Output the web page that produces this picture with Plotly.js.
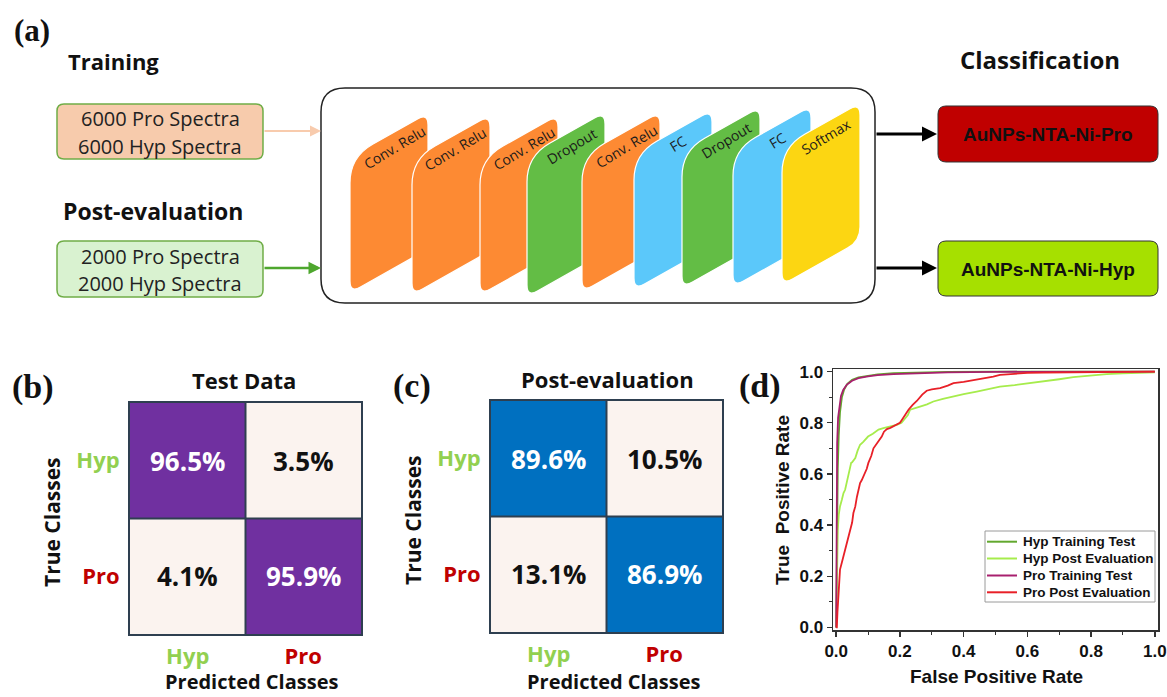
<!DOCTYPE html>
<html><head><meta charset="utf-8">
<script src="https://cdn.plot.ly/plotly-3.0.1.min.js"></script>
<style>html,body{margin:0;padding:0;background:#fff}</style>
</head><body><div id="chart" style="width:1167px;height:697px"></div>
<script>
// ---------------- DATA ----------------
const classes = ['Hyp', 'Pro'];
const cmTest = [[96.5, 3.5], [4.1, 95.9]];
const cmPost = [[89.6, 10.5], [13.1, 86.9]];
const layerNames = ['Conv. Relu', 'Conv. Relu', 'Conv. Relu', 'Dropout', 'Conv. Relu', 'FC', 'Dropout', 'FC', 'Softmax'];
const trainInputs = ['6000 Pro Spectra', '6000 Hyp Spectra'];
const postInputs = ['2000 Pro Spectra', '2000 Hyp Spectra'];
const outputClasses = ['AuNPs-NTA-Ni-Pro', 'AuNPs-NTA-Ni-Hyp'];
const rocNames = ['Hyp Training Test', 'Hyp Post Evaluation', 'Pro Training Test', 'Pro Post Evaluation'];

const hypTrainFpr = [0, 0.002, 0.005, 0.008, 0.012, 0.018, 0.025, 0.035, 0.05, 0.07, 0.1, 0.13, 0.18, 0.25, 0.35, 0.5, 0.7, 1.0];
const hypTrainTpr = [0, 0.30, 0.62, 0.75, 0.84, 0.90, 0.93, 0.952, 0.968, 0.977, 0.984, 0.989, 0.994, 0.997, 0.999, 1.0, 1.0, 1.0];

const hypPostFpr = [0, 0.003, 0.005, 0.008, 0.012, 0.018, 0.023, 0.028, 0.033, 0.04, 0.047, 0.05, 0.06, 0.067, 0.075, 0.085, 0.1, 0.115, 0.133, 0.148, 0.17, 0.19, 0.205, 0.216, 0.225, 0.232, 0.245, 0.263, 0.285, 0.305, 0.335, 0.368, 0.4, 0.441, 0.48, 0.514, 0.56, 0.6, 0.64, 0.7, 0.744, 0.8, 0.849, 0.9, 0.95, 1.0];
const hypPostTpr = [0, 0.25, 0.38, 0.44, 0.473, 0.5, 0.525, 0.538, 0.565, 0.6, 0.643, 0.645, 0.662, 0.69, 0.714, 0.725, 0.746, 0.757, 0.773, 0.779, 0.785, 0.792, 0.80, 0.818, 0.83, 0.851, 0.855, 0.863, 0.872, 0.883, 0.893, 0.903, 0.912, 0.922, 0.932, 0.941, 0.947, 0.953, 0.961, 0.97, 0.978, 0.985, 0.99, 0.993, 0.995, 0.997];

const proTrainFpr = [0, 0.001, 0.003, 0.006, 0.01, 0.015, 0.022, 0.033, 0.05, 0.07, 0.1, 0.13, 0.18, 0.25, 0.35, 0.5, 0.7, 1.0];
const proTrainTpr = [0, 0.45, 0.72, 0.82, 0.87, 0.905, 0.928, 0.948, 0.964, 0.974, 0.981, 0.986, 0.99, 0.994, 0.997, 0.999, 1.0, 1.0];

const proPostFpr = [0, 0.002, 0.004, 0.007, 0.01, 0.012, 0.018, 0.023, 0.028, 0.033, 0.04, 0.044, 0.05, 0.054, 0.06, 0.065, 0.07, 0.075, 0.08, 0.086, 0.096, 0.101, 0.11, 0.117, 0.125, 0.138, 0.143, 0.15, 0.159, 0.17, 0.18, 0.19, 0.2, 0.206, 0.215, 0.227, 0.24, 0.253, 0.27, 0.284, 0.3, 0.326, 0.35, 0.368, 0.4, 0.43, 0.46, 0.493, 0.514, 0.54, 0.567, 0.6, 0.65, 0.7, 0.75, 0.8, 0.9, 1.0];
const proPostTpr = [0, 0.0, 0.06, 0.12, 0.18, 0.226, 0.255, 0.278, 0.3, 0.33, 0.36, 0.382, 0.41, 0.447, 0.473, 0.51, 0.538, 0.564, 0.575, 0.59, 0.62, 0.643, 0.67, 0.70, 0.715, 0.735, 0.746, 0.765, 0.775, 0.78, 0.786, 0.792, 0.80, 0.811, 0.83, 0.851, 0.87, 0.885, 0.91, 0.925, 0.93, 0.935, 0.945, 0.955, 0.96, 0.966, 0.973, 0.98, 0.987, 0.99, 0.993, 0.995, 0.996, 0.997, 0.998, 0.999, 1.0, 1.0];

// ---------------- LAYOUT HELPERS ----------------
const W = 1167, H = 697;
const X = x => x / W;
const Y = y => 1 - y / H;
const OS = 'Open Sans, Noto Sans, sans-serif';
const LS = 'Liberation Sans, Arial, sans-serif';
const SERIF = 'Liberation Serif, Times New Roman, serif';
const HYP_GREEN = '#92D050', PRO_RED = '#C00000';

function roundPoly(pts, radii) {
  const n = pts.length;
  let d = '';
  for (let i = 0; i < n; i++) {
    const p = pts[i], prev = pts[(i - 1 + n) % n], next = pts[(i + 1) % n];
    const r = radii[i];
    const l1 = Math.hypot(prev[0] - p[0], prev[1] - p[1]);
    const l2 = Math.hypot(next[0] - p[0], next[1] - p[1]);
    const a = [p[0] + (prev[0] - p[0]) * r / l1, p[1] + (prev[1] - p[1]) * r / l1];
    const b = [p[0] + (next[0] - p[0]) * r / l2, p[1] + (next[1] - p[1]) * r / l2];
    d += (i === 0 ? 'M' : 'L') + X(a[0]).toFixed(5) + ',' + Y(a[1]).toFixed(5);
    d += ' Q' + X(p[0]).toFixed(5) + ',' + Y(p[1]).toFixed(5) + ' ' + X(b[0]).toFixed(5) + ',' + Y(b[1]).toFixed(5) + ' ';
  }
  return d + 'Z';
}
function roundRect(x0, y0, x1, y1, r) {
  return roundPoly([[x0, y0], [x1, y0], [x1, y1], [x0, y1]], [r, r, r, r]);
}

const shapes = [];
const annotations = [];
function txt(x, y, text, font, extra) {
  annotations.push(Object.assign({xref: 'paper', yref: 'paper', x: X(x), y: Y(y), text: text, showarrow: false,
    xanchor: 'center', yanchor: 'middle', font: font}, extra || {}));
}
function arrow(x0, y, x1, color, width, size) {
  annotations.push({xref: 'paper', yref: 'paper', x: X(x1), y: Y(y), ax: x0 - x1, ay: 0, text: '',
    showarrow: true, arrowhead: 2, arrowsize: size, arrowwidth: width, arrowcolor: color, standoff: 0});
}

// ---------------- PANEL (a) ----------------
txt(32, 30, '(a)', {family: SERIF, size: 31, weight: 'bold', color: '#111'});
txt(113, 61, 'Training', {family: OS, size: 22, weight: 'bold', color: '#111'});
txt(153, 211, 'Post-evaluation', {family: OS, size: 23, weight: 'bold', color: '#111'});
txt(1040, 60, 'Classification', {family: OS, size: 24, weight: 'bold', color: '#111'});

shapes.push({type: 'path', xref: 'paper', yref: 'paper', path: roundRect(57, 104, 263, 159, 7),
  fillcolor: '#F7CBAC', line: {color: '#70AD47', width: 1.5}});
shapes.push({type: 'path', xref: 'paper', yref: 'paper', path: roundRect(57, 241, 263, 297, 7),
  fillcolor: '#D9F2D0', line: {color: '#70AD47', width: 1.5}});
txt(160, 118, trainInputs[0], {family: OS, size: 20, color: '#222'});
txt(160, 146, trainInputs[1], {family: OS, size: 20, color: '#222'});
txt(160, 256, postInputs[0], {family: OS, size: 20, color: '#222'});
txt(160, 283, postInputs[1], {family: OS, size: 20, color: '#222'});

// network container
shapes.push({type: 'path', xref: 'paper', yref: 'paper', path: roundRect(321, 88, 875, 303, 24),
  fillcolor: 'white', line: {color: '#222', width: 1.5}});

const layerColor = {'Conv. Relu': '#FD8A33', 'Dropout': '#63BD45', 'FC': '#5BC8FA', 'Softmax': '#FCD612'};
const layerLeft = [350, 412, 480, 527, 582, 634, 682, 733, 782];
const layerTop = [113, 115, 115, 112, 112, 110, 107, 106, 103];
const layerBottom = [293, 295, 295, 297, 292, 290, 288, 287, 285];
const LW = 78, SL = 44;
layerNames.forEach((name, i) => {
  const L = layerLeft[i], R = L + LW, t = layerTop[i], b = layerBottom[i];
  const pts = [[L, t + SL], [R, t], [R, b - SL], [L, b]];
  shapes.push({type: 'path', xref: 'paper', yref: 'paper', path: roundPoly(pts, [26, 12, 14, 12]),
    fillcolor: layerColor[name], line: {color: 'white', width: 1.2}});
  txt(L + 44, t + 34, name, {family: OS, size: 14, color: '#1a1a1a'}, {textangle: -31});
});

arrow(263, 131, 321, '#F8CBAD', 2, 1.1);
arrow(263, 268, 321, '#4EA72E', 2.5, 1.0);
arrow(875, 134, 937, '#000', 3, 1.0);
arrow(875, 268, 937, '#000', 3, 1.0);

shapes.push({type: 'path', xref: 'paper', yref: 'paper', path: roundRect(938, 106, 1158, 162, 8),
  fillcolor: '#C00000', line: {color: '#333', width: 1}});
shapes.push({type: 'path', xref: 'paper', yref: 'paper', path: roundRect(938, 241, 1158, 296, 8),
  fillcolor: '#A6E000', line: {color: '#333', width: 1}});
txt(1048, 134, outputClasses[0], {family: LS, size: 19, weight: 'bold', color: '#111'});
txt(1048, 269, outputClasses[1], {family: LS, size: 19, weight: 'bold', color: '#111'});

// ---------------- PANELS (b), (c) ----------------
const classColor = {Hyp: HYP_GREEN, Pro: PRO_RED};
const tickText = classes.map(c => '<span style="color:' + classColor[c] + '">' + c + '</span>');
function cmAxes(x0, x1, y0, y1, xa, ya) {
  const common = {showline: true, mirror: true, linecolor: '#2E3F50', linewidth: 2, ticks: '', showgrid: false,
    zeroline: false, fixedrange: true, tickvals: [0, 1], ticktext: tickText,
    tickfont: {family: OS, size: 22, weight: 'bold'}};
  return [
    Object.assign({}, common, {domain: [X(x0), X(x1)], range: [-0.5, 1.5], anchor: ya, ticklabelstandoff: 2}),
    Object.assign({}, common, {domain: [Y(y1), Y(y0)], range: [1.5, -0.5], anchor: xa, ticklabelstandoff: 4})
  ];
}
const [xa1, ya1] = cmAxes(130, 361, 403, 634, 'x', 'y');
const [xa2, ya2] = cmAxes(491, 722, 401, 632, 'x2', 'y2');

function cmTrace(z, color, xa, ya) {
  return {type: 'heatmap', z: z, x: [0, 1], y: [0, 1], xaxis: xa, yaxis: ya, zmin: 0, zmax: 100,
    colorscale: [[0, '#FBF3EF'], [0.499, '#FBF3EF'], [0.5, color], [1, color]],
    showscale: false, hoverinfo: 'skip', showlegend: false};
}
function cmDecor(z, xa, ya) {
  shapes.push({type: 'line', xref: xa, yref: ya, x0: 0.5, x1: 0.5, y0: -0.5, y1: 1.5, line: {color: '#2E3F50', width: 2}});
  shapes.push({type: 'line', xref: xa, yref: ya, x0: -0.5, x1: 1.5, y0: 0.5, y1: 0.5, line: {color: '#2E3F50', width: 2}});
  z.forEach((row, r) => row.forEach((v, c) => {
    annotations.push({xref: xa, yref: ya, x: c, y: r, text: v.toFixed(1) + '%', showarrow: false,
      font: {family: OS, size: 26, weight: 'bold', color: r === c ? '#FFFFFF' : '#111111'}});
  }));
}
cmDecor(cmTest, 'x', 'y');
cmDecor(cmPost, 'x2', 'y2');

txt(33, 387, '(b)', {family: SERIF, size: 34, weight: 'bold', color: '#111'});
txt(244, 380, 'Test Data', {family: OS, size: 22, weight: 'bold', color: '#111'});
txt(52, 522, 'True Classes', {family: OS, size: 21, weight: 'bold', color: '#111'}, {textangle: -90});
txt(251, 697, 'Predicted Classes', {family: OS, size: 20, weight: 'bold', color: '#111'}, {yanchor: 'bottom'});

txt(412, 386, '(c)', {family: SERIF, size: 34, weight: 'bold', color: '#111'});
txt(607, 379, 'Post-evaluation', {family: OS, size: 22, weight: 'bold', color: '#111'});
txt(413, 520, 'True Classes', {family: OS, size: 21, weight: 'bold', color: '#111'}, {textangle: -90});
txt(613, 697, 'Predicted Classes', {family: OS, size: 20, weight: 'bold', color: '#111'}, {yanchor: 'bottom'});

// ---------------- PANEL (d) ----------------
txt(760, 386, '(d)', {family: SERIF, size: 34, weight: 'bold', color: '#111'});
const rocColors = ['#62A82E', '#A6EC4C', '#A8206E', '#E82028'];
const rocX = [hypTrainFpr, hypPostFpr, proTrainFpr, proPostFpr];
const rocY = [hypTrainTpr, hypPostTpr, proTrainTpr, proPostTpr];
const rocTraces = rocNames.map((n, i) => ({type: 'scatter', mode: 'lines', name: n, x: rocX[i], y: rocY[i],
  xaxis: 'x3', yaxis: 'y3', line: {color: rocColors[i], width: 1.8}, hoverinfo: 'skip', showlegend: false}));

const rocAxis = {range: [-0.01, 1.01], dtick: 0.2, tick0: 0, tickformat: '.1f', ticks: 'outside', ticklen: 5,
  tickwidth: 1.5, tickcolor: '#333', showline: true, mirror: true, linecolor: '#333', linewidth: 1.5,
  showgrid: false, zeroline: false, fixedrange: true,
  tickfont: {family: LS, size: 17, weight: 'bold', color: '#111'},
  minor: {ticks: 'outside', ticklen: 3, tickwidth: 1, tickcolor: '#333', dtick: 0.1, tick0: 0}};
const xa3 = Object.assign({}, rocAxis, {domain: [X(833), X(1158)], anchor: 'y3'});
const ya3 = Object.assign({}, rocAxis, {domain: [Y(630), Y(369)], anchor: 'x3'});
txt(996, 676, 'False Positive Rate', {family: LS, size: 19, weight: 'bold', color: '#111'});
txt(782, 500, 'True\u00A0 Positive Rate', {family: LS, size: 19, weight: 'bold', color: '#111'}, {textangle: -90});

// legend box drawn as a compact key
shapes.push({type: 'rect', xref: 'paper', yref: 'paper', x0: X(985), x1: X(1155), y0: Y(602), y1: Y(531),
  fillcolor: 'white', line: {color: '#9a9a9a', width: 1}});
const legendRows = [541.7, 558.5, 575.5, 592.3];
rocNames.forEach((n, i) => {
  shapes.push({type: 'line', xref: 'paper', yref: 'paper', x0: X(987), x1: X(1017), y0: Y(legendRows[i]), y1: Y(legendRows[i]),
    line: {color: rocColors[i], width: 2}});
  annotations.push({xref: 'paper', yref: 'paper', x: X(1021), y: Y(legendRows[i]), text: n, showarrow: false,
    xanchor: 'left', yanchor: 'middle', font: {family: LS, size: 13.5, weight: 'bold', color: '#111'}});
});

const layout = {
  width: W, height: H, margin: {l: 0, r: 0, t: 0, b: 0},
  paper_bgcolor: 'white', plot_bgcolor: 'white',
  xaxis: xa1, yaxis: ya1, xaxis2: xa2, yaxis2: ya2, xaxis3: xa3, yaxis3: ya3,
  shapes: shapes, annotations: annotations,
  showlegend: false
};

Plotly.newPlot('chart', [cmTrace(cmTest, '#7030A0', 'x', 'y'), cmTrace(cmPost, '#0070C0', 'x2', 'y2')].concat(rocTraces),
  layout, {staticPlot: true, displayModeBar: false});
</script></body></html>
